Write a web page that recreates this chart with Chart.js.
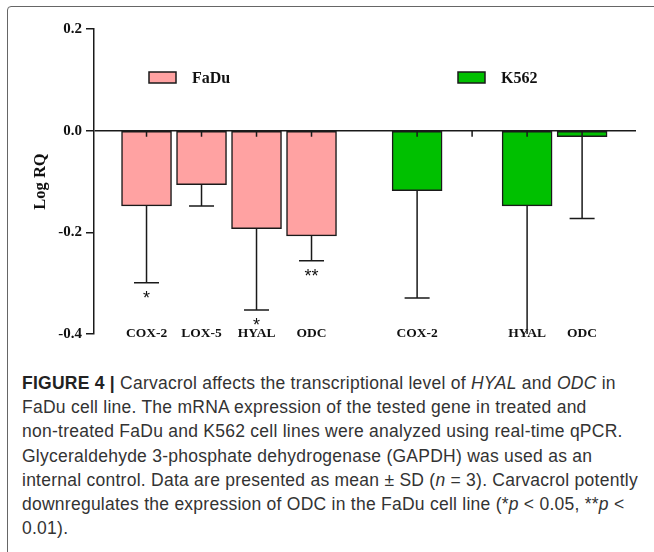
<!DOCTYPE html>
<html>
<head>
<meta charset="utf-8">
<script src="https://cdn.jsdelivr.net/npm/chart.js@4.4.1/dist/chart.umd.min.js"></script>
<style>
  html, body { margin: 0; padding: 0; background: #fff; }
  body { width: 654px; height: 552px; position: relative; overflow: hidden; }
  .frame {
    position: absolute; left: 7px; top: 6px; width: 700px; height: 600px;
    border: 1.5px solid #666; border-radius: 4px; box-sizing: border-box;
  }
  #wrap { position: absolute; left: 0; top: 0; width: 654px; height: 360px; }
  .caption {
    position: absolute; left: 22px; top: 371px; white-space: nowrap;
    font-family: 'Liberation Sans', Arial, sans-serif; font-size: 17.5px;
    letter-spacing: 0.25px; line-height: 24.2px; color: #333;
  }
  .caption b { color: #222; }
</style>
</head>
<body>
<div class="frame"></div>
<div id="wrap"><canvas id="chart" width="654" height="360"></canvas></div>
<div class="caption">
  <b>FIGURE 4 |</b> Carvacrol affects the transcriptional level of <i>HYAL</i> and <i>ODC</i> in<br>
  FaDu cell line. The mRNA expression of the tested gene in treated and<br>
  non-treated FaDu and K562 cell lines were analyzed using real-time qPCR.<br>
  Glyceraldehyde 3-phosphate dehydrogenase (GAPDH) was used as an<br>
  internal control. Data are presented as mean ± SD (<i>n</i> = 3). Carvacrol potently<br>
  downregulates the expression of ODC in the FaDu cell line (*<i>p</i> &lt; 0.05, **<i>p</i> &lt;<br>
  0.01).
</div>
<script>
'use strict';

/* ── data ── */
const genes = ['COX-2', 'LOX-5', 'HYAL', 'ODC'];
const cellLines = ['FaDu', 'K562'];
const faduMean = [-0.148, -0.106, -0.193, -0.207];
const faduSD = [0.151, 0.042, 0.160, 0.049];
const faduSig = ['*', '', '*', '**'];
const k562Mean = [-0.118, null, -0.148, -0.012];
const k562SD = [0.211, null, 0.26, 0.161];
const k562Sig = ['', '', '', ''];
const yTicks = [0.2, 0.0, -0.2, -0.4];

// where each cell-line group starts on the x axis (gene index added on top)
const groupStart = [1, 5.92];

const COLORS = { FaDu: '#ffa2a2', K562: '#00c000' };
const INK = '#1a1a1a';
const SERIF = "'Liberation Serif', 'Times New Roman', serif";

function points(g, values) {
  return values.map((v, i) => ({ x: groupStart[g] + i, y: v }));
}

const xTicks = [];
[faduMean, k562Mean].forEach((vals, g) => {
  genes.forEach((name, i) => {
    xTicks.push({ value: groupStart[g] + i, label: vals[i] === null ? '' : name });
  });
});

/* ── plugins ── */
const errorBarPlugin = {
  id: 'errorBars',
  afterDatasetsDraw(chart) {
    const { ctx, chartArea, scales: { y } } = chart;
    ctx.save();
    ctx.strokeStyle = INK;
    ctx.fillStyle = '#111';
    ctx.lineWidth = 1.5;
    chart.data.datasets.forEach((ds, d) => {
      const meta = chart.getDatasetMeta(d);
      meta.data.forEach((bar, i) => {
        const mean = ds.data[i].y;
        const sd = ds.sd[i];
        if (mean === null || sd === null) return;
        let low = y.getPixelForValue(mean - sd);
        let cap = true;
        if (low > chartArea.bottom) { low = chartArea.bottom; cap = false; }
        ctx.beginPath();
        ctx.moveTo(bar.x, bar.y);
        ctx.lineTo(bar.x, low);
        if (cap) {
          ctx.moveTo(bar.x - 12.5, low);
          ctx.lineTo(bar.x + 12.5, low);
        }
        ctx.stroke();
        if (ds.sig[i]) {
          ctx.font = "18px 'Liberation Sans', Arial, sans-serif";
          ctx.textAlign = 'center';
          ctx.textBaseline = 'top';
          ctx.fillText(ds.sig[i], bar.x, low + 7);
        }
      });
    });
    ctx.restore();
  },
};

const zeroTickPlugin = {
  id: 'zeroTicks',
  afterDatasetsDraw(chart) {
    const { ctx, scales: { x, y } } = chart;
    const y0 = y.getPixelForValue(0);
    ctx.save();
    ctx.strokeStyle = INK;
    ctx.lineWidth = 1.5;
    ctx.beginPath();
    xTicks.forEach(t => {
      const px = x.getPixelForValue(t.value);
      ctx.moveTo(px, y0);
      ctx.lineTo(px, y0 + 6);
    });
    ctx.stroke();
    ctx.restore();
  },
};

const legendPlugin = {
  id: 'inlineLegend',
  afterDraw(chart) {
    const { ctx } = chart;
    const spots = [149, 458];
    ctx.save();
    chart.data.datasets.forEach((ds, d) => {
      const bx = spots[d];
      ctx.fillStyle = ds.backgroundColor;
      ctx.fillRect(bx, 72, 27, 11);
      ctx.strokeStyle = INK;
      ctx.lineWidth = 1.5;
      ctx.strokeRect(bx, 72, 27, 11);
      ctx.fillStyle = '#111';
      ctx.font = `bold 16px ${SERIF}`;
      ctx.textAlign = 'left';
      ctx.textBaseline = 'middle';
      ctx.fillText(ds.label, bx + 43, 78.5);
    });
    ctx.restore();
  },
};

/* ── chart ── */
new Chart(document.getElementById('chart').getContext('2d'), {
  type: 'bar',
  data: {
    datasets: [
      {
        label: cellLines[0],
        data: points(0, faduMean),
        sd: faduSD,
        sig: faduSig,
        backgroundColor: COLORS.FaDu,
      },
      {
        label: cellLines[1],
        data: points(1, k562Mean),
        sd: k562SD,
        sig: k562Sig,
        backgroundColor: COLORS.K562,
      },
    ],
  },
  options: {
    responsive: false,
    animation: false,
    layout: { padding: { left: 27, right: 18, top: 29, bottom: 12 } },
    datasets: {
      bar: {
        grouped: false,
        barThickness: 50,
        borderColor: INK,
        borderWidth: 1.5,
        borderSkipped: false,
      },
    },
    plugins: { legend: { display: false }, tooltip: { enabled: false } },
    scales: {
      x: {
        type: 'linear',
        position: 'bottom',
        offset: false,
        min: 0.045,
        max: 9.9,
        grid: { display: false, drawTicks: false },
        border: { display: false },
        afterBuildTicks(scale) { scale.ticks = xTicks.map(t => ({ value: t.value })); },
        afterFit(scale) { scale.height = 14; },
        ticks: {
          autoSkip: false,
          maxRotation: 0,
          mirror: true,
          padding: -7.5,
          color: '#111',
          font: { family: SERIF, size: 13.5, weight: 'bold' },
          callback: (v, i) => xTicks[i].label,
        },
      },
      y: {
        min: -0.4,
        max: 0.2,
        afterBuildTicks(scale) { scale.ticks = yTicks.map(v => ({ value: v })); },
        afterFit(scale) { scale.width = 67; },
        grid: {
          color: c => (c.tick && c.tick.value === 0 ? INK : 'rgba(0,0,0,0)'),
          tickColor: INK,
          lineWidth: 1.5,
          tickLength: 8,
        },
        border: { color: INK, width: 1.5 },
        ticks: {
          padding: 4,
          color: '#111',
          font: { family: SERIF, size: 15, weight: 'bold' },
          callback: v => v.toFixed(1),
        },
        title: {
          display: true,
          text: 'Log RQ',
          color: '#111',
          font: { family: SERIF, size: 16.5, weight: 'bold' },
        },
      },
    },
  },
  plugins: [errorBarPlugin, zeroTickPlugin, legendPlugin],
});
</script>
</body>
</html>
